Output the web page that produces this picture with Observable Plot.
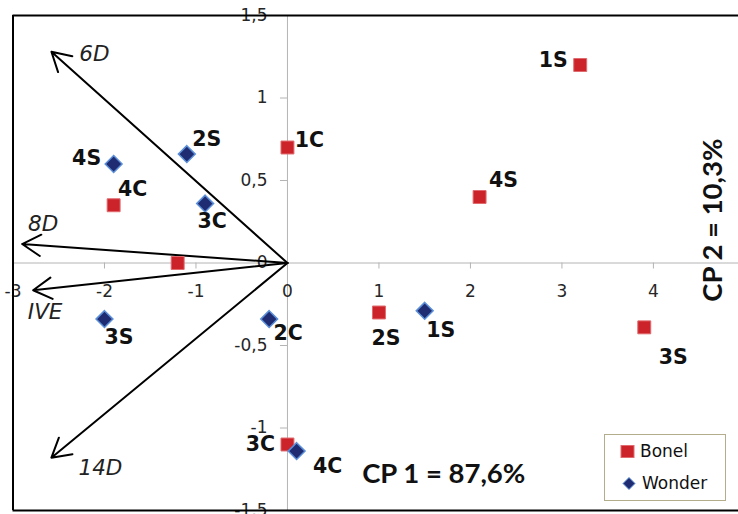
<!DOCTYPE html>
<html><head><meta charset="utf-8">
<script src="https://cdn.jsdelivr.net/npm/d3@7"></script>
<script src="https://cdn.jsdelivr.net/npm/@observablehq/plot@0.6"></script>
<style>
body{margin:0;background:#fff;}
#wrap{position:relative;width:738px;height:514px;overflow:hidden;background:#fff;}
#legend{position:absolute;left:604px;top:434px;width:120px;height:65px;border:1px solid #b3ad8c;background:#fff;}
</style>
</head><body>
<div id="wrap"></div>
<script>
// ---- data ----
const bonelLabels = ["1S", "4S", "1C", "4C", "", "2S", "3S", "3C"];
const bonelX = [3.2, 2.1, 0.0, -1.9, -1.2, 1.0, 3.9, 0.0];
const bonelY = [1.2, 0.4, 0.7, 0.35, 0.0, -0.3, -0.39, -1.1];

const wonderLabels = ["4S", "2S", "3C", "3S", "2C", "1S", "4C"];
const wonderX = [-1.9, -1.1, -0.9, -2.0, -0.2, 1.5, 0.1];
const wonderY = [0.6, 0.66, 0.36, -0.34, -0.34, -0.29, -1.14];

const varLabels = ["6D", "8D", "IVE", "14D"];
const varX = [-2.58, -2.9, -2.78, -2.58];
const varY = [1.28, 0.115, -0.165, -1.18];

const xTicks = [-3, -2, -1, 0, 1, 2, 3, 4];
const xTickLabels = ["-3", "-2", "-1", "0", "1", "2", "3", "4"];
const yTicks = [-1.5, -1, -0.5, 0, 0.5, 1, 1.5];
const yTickLabels = ["-1,5", "-1", "-0,5", "0", "0,5", "1", "1,5"];

const cp1Label = "CP 1 = 87,6%";
const cp2Label = "CP 2 = 10,3%";
const seriesNames = ["Bonel", "Wonder"];

// ---- tables ----
const bonel = bonelLabels.map((label, i) => ({label, x: bonelX[i], y: bonelY[i]}));
const wonder = wonderLabels.map((label, i) => ({label, x: wonderX[i], y: wonderY[i]}));
const vars = varLabels.map((label, i) => ({label, x: varX[i], y: varY[i]}));

// ---- label offsets (style) ----
const bonelOff = {"1S": [-27, -4.5], "4S": [24, -17], "1C": [22, -7.5], "4C": [19, -16], "2S": [7, 26], "3S": [29, 30], "3C": [-27, 0]};
const wonderOff = {"4S": [-27, -6], "2S": [20, -15], "3C": [7, 17.5], "3S": [14.5, 18], "2C": [19, 14.5], "1S": [16, 20], "4C": [31, 15]};
const varOff = {"6D": [43, 2], "8D": [21, -20], "IVE": [12, 22], "14D": [49, 10]};

const W = 738, H = 514, mL = 12.5, mR = 0, mT = 15, mB = 4;
const xDom = [-3, 4.93], yDom = [-1.5, 1.5];
const pyUnit = (yDom[1] - yDom[0]) / (H - mT - mB);
const pxUnit = (xDom[1] - xDom[0]) / (W - mL - mR);

const font = "'DejaVu Sans', Verdana, sans-serif";
const fontCP = "Lato, 'Open Sans', sans-serif";
const RED = "#cc2229", RED_S = "#e06a6e";
const NAVY = "#1f2c72", NAVY_S = "#5b8fd8";

const labelMarks = [];
bonel.filter(d => d.label).forEach(d => {
  const o = bonelOff[d.label];
  labelMarks.push(Plot.text([d], {x: "x", y: "y", text: "label", dx: o[0], dy: o[1], fontSize: 20.5, fontWeight: "bold", fill: "#111"}));
});
wonder.forEach(d => {
  const o = wonderOff[d.label];
  labelMarks.push(Plot.text([d], {x: "x", y: "y", text: "label", dx: o[0], dy: o[1], fontSize: 20.5, fontWeight: "bold", fill: "#111"}));
});
vars.forEach(d => {
  const o = varOff[d.label];
  labelMarks.push(Plot.text([d], {x: "x", y: "y", text: "label", dx: o[0], dy: o[1], fontSize: 21.5, fontStyle: "italic", fill: "#222"}));
});

const chart = Plot.plot({
  width: W, height: H,
  marginLeft: mL, marginRight: mR, marginTop: mT, marginBottom: mB,
  x: {domain: xDom, axis: null},
  y: {domain: yDom, axis: null},
  style: {fontFamily: font, background: "#fff"},
  marks: [
    Plot.ruleY([0], {stroke: "#b4b4b4", strokeWidth: 1}),
    Plot.ruleX([0], {stroke: "#b4b4b4", strokeWidth: 1}),
    Plot.ruleX(xTicks, {x: d => d, y1: 0, y2: -6 * pyUnit, stroke: "#b4b4b4"}),
    Plot.ruleY(yTicks, {y: d => d, x1: 0, x2: -7 * pxUnit, stroke: "#b4b4b4"}),
    Plot.text(xTicks, {x: d => d, y: 0, text: (d, i) => xTickLabels[i], dy: 28.5, fontSize: 17, fill: "#262626"}),
    Plot.text(yTicks, {x: 0, y: d => d, text: (d, i) => yTickLabels[i], textAnchor: "end", dx: -20, fontSize: 17, fill: "#262626"}),
    Plot.arrow(vars, {x1: 0, y1: 0, x2: "x", y2: "y", stroke: "#000", strokeWidth: 2, headLength: 16, headAngle: 60}),
    Plot.dot(bonel, {x: "x", y: "y", symbol: "square", r: 7.3, fill: RED, stroke: RED_S, strokeWidth: 1}),
    Plot.dot(wonder, {x: "x", y: "y", symbol: "diamond2", r: 7.6, fill: NAVY, stroke: NAVY_S, strokeWidth: 1.5}),
    ...labelMarks,
    Plot.text([cp1Label], {frameAnchor: "bottom", dx: 68, dy: -28, fontSize: 27.5, fontWeight: "bold", fontFamily: fontCP, fill: "#111"}),
    Plot.text([cp2Label], {frameAnchor: "right", dx: -25, dy: -124.5, rotate: -90, fontSize: 27.5, fontWeight: "bold", fontFamily: fontCP, fill: "#111"}),
    Plot.ruleY([yDom[1], yDom[0]], {stroke: "#000", strokeWidth: 2}),
    Plot.ruleX([xDom[0]], {stroke: "#000", strokeWidth: 2})
  ]
});
document.getElementById("wrap").appendChild(chart);

// legend
const lg = d3.select("#wrap").append("div").attr("id", "legend");
const ls = lg.append("svg").attr("width", 120).attr("height", 65).style("position", "absolute").style("left", 0).style("top", 0);
ls.append("rect").attr("x", 16).attr("y", 10.5).attr("width", 13).attr("height", 12).attr("fill", RED).attr("stroke", RED_S);
ls.append("path").attr("d", "M24,42.5 L30,48.5 L24,54.5 L18,48.5 Z").attr("fill", NAVY).attr("stroke", NAVY_S);
seriesNames.forEach((n, i) => {
  ls.append("text").attr("x", i ? 37 : 35).attr("y", i ? 48.5 : 16.5).attr("dy", "0.35em")
    .attr("font-family", font).attr("font-size", 17).attr("fill", "#111").text(n);
});
</script>
</body></html>
